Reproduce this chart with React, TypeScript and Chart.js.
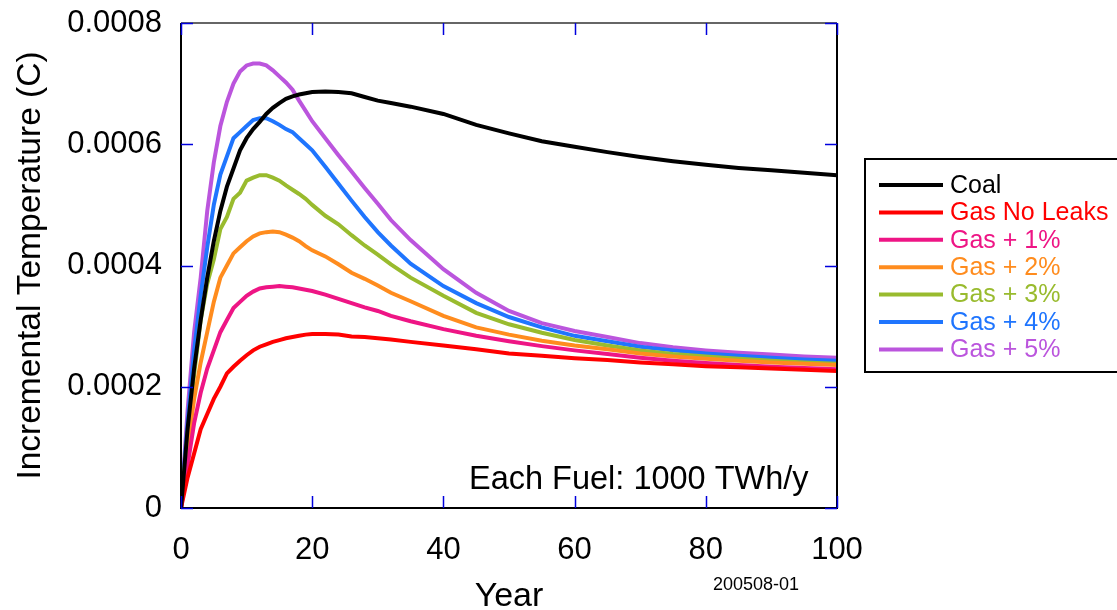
import React, { useEffect, useRef } from "react";
import { Chart, registerables } from "chart.js";

Chart.register(...registerables);

const years = [0,1,2,3,4,5,6,7,8,9,10,11,12,13,14,15,16,17,18,19,20,22,24,26,28,30,32,35,40,45,50,55,60,65,70,75,80,85,90,95,100];

const coal = [0,0.00013,0.00023,0.00031,0.00038,0.00044,0.00049,0.00053,0.00056,0.00059,0.00061,0.000625,0.000637,0.00065,0.00066,0.000668,0.000675,0.000679,0.000682,0.000684,0.000686,0.000687,0.000686,0.000684,0.000678,0.000672,0.000668,0.000662,0.00065,0.000632,0.000618,0.000605,0.000596,0.000587,0.000579,0.000572,0.000566,0.000561,0.000557,0.000553,0.000549];
const gasNoLeaks = [0,0.00005,0.00009,0.00013,0.000155,0.00018,0.0002,0.000222,0.000233,0.000243,0.000252,0.00026,0.000266,0.00027,0.000274,0.000277,0.00028,0.000282,0.000284,0.000286,0.000287,0.000287,0.000286,0.000283,0.000282,0.00028,0.000278,0.000274,0.000268,0.000262,0.000255,0.000251,0.000247,0.000244,0.00024,0.000237,0.000234,0.000232,0.00023,0.000228,0.000226];
const gas1 = [0,0.00007,0.00014,0.00019,0.00023,0.00026,0.00029,0.00031,0.00033,0.00034,0.00035,0.000357,0.000362,0.000364,0.000365,0.000366,0.000365,0.000364,0.000362,0.00036,0.000358,0.000352,0.000345,0.000338,0.000331,0.000325,0.000317,0.000308,0.000295,0.000284,0.000275,0.000267,0.00026,0.000254,0.000248,0.000243,0.000239,0.000236,0.000233,0.000231,0.000229];
const gas2 = [0,0.0001,0.00018,0.00024,0.00029,0.00034,0.00038,0.0004,0.00042,0.00043,0.00044,0.000448,0.000453,0.000455,0.000456,0.000455,0.000451,0.000446,0.00044,0.000432,0.000425,0.000415,0.000402,0.000388,0.000378,0.000367,0.000355,0.000341,0.000317,0.000298,0.000286,0.000276,0.000268,0.000262,0.000255,0.00025,0.000246,0.000243,0.00024,0.000238,0.000236];
const gas3 = [0,0.00012,0.00022,0.00031,0.00037,0.00041,0.00046,0.00048,0.00051,0.00052,0.00054,0.000545,0.000549,0.000549,0.000545,0.00054,0.000532,0.000525,0.000518,0.00051,0.0005,0.000482,0.000468,0.00045,0.000433,0.000418,0.000402,0.00038,0.00035,0.000322,0.000303,0.000289,0.000277,0.000268,0.00026,0.000254,0.00025,0.000246,0.000243,0.00024,0.000238];
const gas4 = [0,0.00014,0.00026,0.00035,0.00043,0.0005,0.00055,0.00058,0.00061,0.00062,0.00063,0.00064,0.000643,0.000643,0.000638,0.000632,0.000625,0.00062,0.00061,0.0006,0.00059,0.000563,0.000535,0.000507,0.00048,0.000455,0.000433,0.000403,0.000366,0.000338,0.000315,0.000298,0.000284,0.000275,0.000266,0.00026,0.000255,0.000251,0.000248,0.000245,0.000243];
const gas5 = [0,0.00016,0.00029,0.00038,0.00049,0.00057,0.00063,0.00067,0.0007,0.00072,0.00073,0.000733,0.000733,0.00073,0.000722,0.000712,0.000702,0.00069,0.000672,0.000655,0.000638,0.00061,0.000582,0.000555,0.000528,0.000502,0.000475,0.000442,0.000394,0.000355,0.000325,0.000305,0.000292,0.000282,0.000272,0.000265,0.00026,0.000256,0.000253,0.00025,0.000248];

const seriesLabels = ["Coal", "Gas No Leaks", "Gas + 1%", "Gas + 2%", "Gas + 3%", "Gas + 4%", "Gas + 5%"];
const seriesValues = [coal, gasNoLeaks, gas1, gas2, gas3, gas4, gas5];
const seriesColors = ["#000000", "#ff0000", "#ee1585", "#ff8c1e", "#99bb2e", "#1f75fe", "#bb55dd"];
const yTicks = [0, 0.0002, 0.0004, 0.0006, 0.0008];
const xTicks = [0, 20, 40, 60, 80, 100];
const annotation = "Each Fuel: 1000 TWh/y";
const figureId = "200508-01";

const FONT = "'Liberation Sans', Arial, sans-serif";

const zeroPad = (s: any) => {
  s.paddingTop = 0;
  s.paddingBottom = 0;
  s.paddingLeft = 0;
  s.paddingRight = 0;
};

const decorPlugin = {
  id: "decor",
  afterDatasetsDraw(chart: any) {
    const ctx = chart.ctx;
    const { left, right, top, bottom } = chart.chartArea;
    const xs = chart.scales.x;
    const ys = chart.scales.y;
    ctx.save();
    // frame
    ctx.strokeStyle = "#000";
    ctx.lineWidth = 2;
    ctx.beginPath();
    ctx.moveTo(left, top);
    ctx.lineTo(left, bottom);
    ctx.lineTo(right, bottom);
    ctx.lineTo(right, top);
    ctx.stroke();
    ctx.strokeStyle = "#333";
    ctx.lineWidth = 1.5;
    ctx.beginPath();
    ctx.moveTo(left, top);
    ctx.lineTo(right, top);
    ctx.stroke();
    // inward ticks
    ctx.strokeStyle = "#0000dd";
    ctx.lineWidth = 1.5;
    const tl = 12;
    ctx.beginPath();
    xTicks.forEach((v) => {
      const px = Math.round(xs.getPixelForValue(v)) + 0.5;
      ctx.moveTo(px, bottom);
      ctx.lineTo(px, bottom - tl);
      ctx.moveTo(px, top);
      ctx.lineTo(px, top + tl);
    });
    yTicks.forEach((v) => {
      const py = Math.round(ys.getPixelForValue(v)) + 0.5;
      ctx.moveTo(left, py);
      ctx.lineTo(left + tl, py);
      ctx.moveTo(right, py);
      ctx.lineTo(right - tl, py);
    });
    ctx.stroke();
    // annotation
    ctx.fillStyle = "#000";
    ctx.font = `32.5px ${FONT}`;
    ctx.textAlign = "left";
    ctx.textBaseline = "alphabetic";
    ctx.fillText(annotation, 469, 489);
    ctx.font = `18px ${FONT}`;
    ctx.textAlign = "center";
    ctx.textBaseline = "middle";
    ctx.fillText(figureId, 756, 585);
    // legend
    const lx = 865, ly = 159, lb = 372;
    ctx.strokeStyle = "#000";
    ctx.lineWidth = 2;
    ctx.strokeRect(lx, ly, 300, lb - ly);
    chart.data.datasets.forEach((ds: any, i: number) => {
      const cy = 185 + i * 27.4;
      ctx.strokeStyle = ds.borderColor;
      ctx.lineWidth = 4;
      ctx.beginPath();
      ctx.moveTo(879, cy);
      ctx.lineTo(943, cy);
      ctx.stroke();
      ctx.fillStyle = ds.borderColor;
      ctx.font = `25px ${FONT}`;
      ctx.textAlign = "left";
      ctx.textBaseline = "middle";
      ctx.fillText(ds.label, 950, cy + 1);
    });
    ctx.restore();
  },
};

export default function App() {
  const ref = useRef<HTMLCanvasElement | null>(null);
  useEffect(() => {
    if (!ref.current) return;
    const datasets = seriesLabels.map((label, i) => ({
      label,
      data: years.map((yr, j) => ({ x: yr, y: seriesValues[i][j] })),
      borderColor: seriesColors[i],
      backgroundColor: seriesColors[i],
      borderWidth: 4,
      pointRadius: 0,
      tension: 0,
      fill: false,
    }));
    const chart = new Chart(ref.current, {
      type: "line",
      data: { datasets },
      plugins: [decorPlugin],
      options: {
        responsive: false,
        animation: false,
        layout: { padding: { top: 23, right: 280, left: 0, bottom: 0 } },
        plugins: { legend: { display: false }, tooltip: { enabled: false } },
        scales: {
          x: {
            type: "linear",
            min: 0,
            max: 100,
            afterFit: (s: any) => { s.height = 102; zeroPad(s); },
            afterBuildTicks: (s: any) => { s.ticks = xTicks.map((v) => ({ value: v })); },
            grid: { display: false, drawTicks: false },
            border: { display: false },
            ticks: { color: "#000", font: { size: 31, family: FONT }, padding: 24, maxRotation: 0 },
            title: { display: true, text: "Year", color: "#000", font: { size: 34, family: FONT }, padding: { top: 0, bottom: -7 } },
          },
          y: {
            type: "linear",
            min: 0,
            max: 0.0008,
            afterFit: (s: any) => { s.width = 181; zeroPad(s); },
            afterBuildTicks: (s: any) => { s.ticks = yTicks.map((v) => ({ value: v })); },
            grid: { display: false, drawTicks: false },
            border: { display: false },
            ticks: {
              color: "#000",
              font: { size: 31, family: FONT },
              padding: 19,
              callback: (v: any) => (v === 0 ? "0" : Number(v).toFixed(4)),
            },
            title: { display: true, text: "Incremental Temperature (C)", color: "#000", font: { size: 33.5, family: FONT }, padding: { top: 11, bottom: 0 } },
          },
        },
      },
    });
    return () => chart.destroy();
  }, []);
  return (
    <div style={{ position: "fixed", left: 0, top: 0, width: 1117, height: 610, background: "#fff" }}>
      <canvas ref={ref} width={1117} height={610} style={{ display: "block" }} />
    </div>
  );
}
